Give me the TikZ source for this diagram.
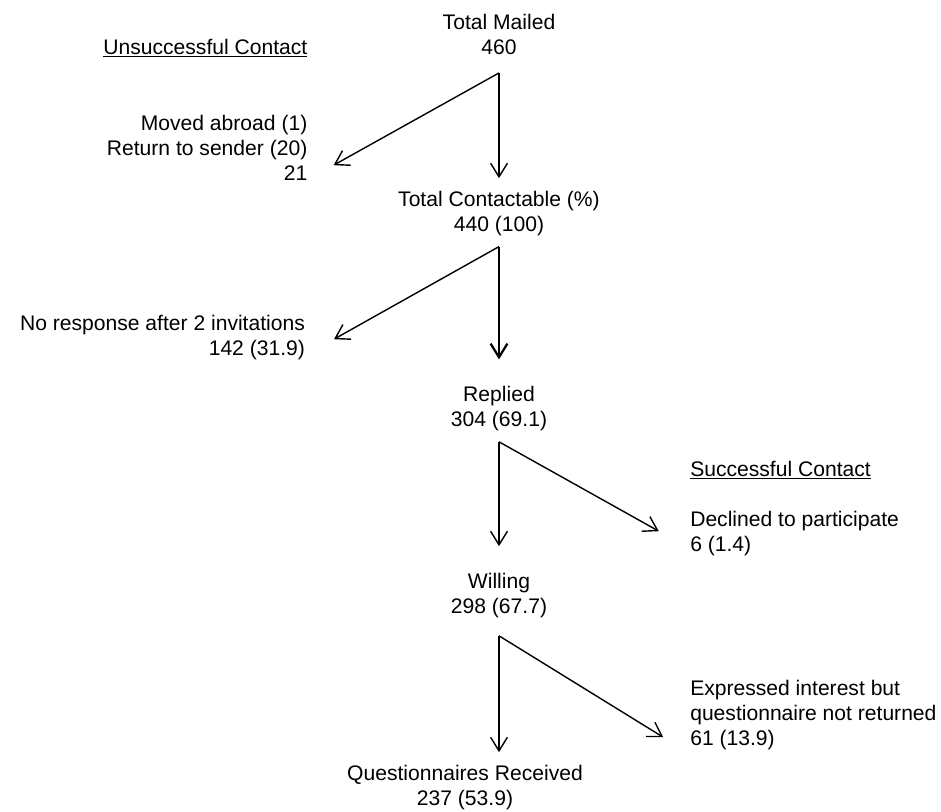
\documentclass[tikz,border=0pt]{standalone}
\usepackage{fontspec}
\setmainfont{Liberation Sans}
\usetikzlibrary{arrows.meta, positioning}

\begin{document}
\begin{tikzpicture}[
    txt/.style={inner sep=0pt, align=center, font=\fontsize{15}{17.8}\selectfont},
    arrow/.style={-{Straight Barb[length=3.4mm, width=4.2mm]}, line width=1pt},
    mainarrow/.style={-{Straight Barb[length=3.4mm, width=4.2mm]}, line width=1.6pt}
]
\useasboundingbox (0,0) rectangle (23.525,-20.3);

% main column
\node[txt] (mailed) at (12.475,-0.86) {Total Mailed\\460};
\node[txt] (contact) at (12.475,-5.35) {Total Contactable (\%)\\440 (100)};
\node[txt] (replied) at (12.475,-10.21) {Replied\\304 (69.1)};
\node[txt] (willing) at (12.475,-14.89) {Willing\\298 (67.7)};
\node[txt] (received) at (11.625,-19.69) {Questionnaires Received\\237 (53.9)};

% losses
\node[txt, anchor=east] (unsucc) at (7.69,-1.2) {\underline{Unsuccessful Contact}};
\node[txt, align=right, anchor=east] (moved) at (7.69,-3.69) {Moved abroad (1)\\Return to sender (20)\\21};
\node[txt, align=right, anchor=east] (noresp) at (7.63,-8.44) {No response after 2 invitations\\142 (31.9)};
\node[txt, anchor=west] (succ) at (17.25,-11.75) {\underline{Successful Contact}};
\node[txt, align=left, anchor=west] (declined) at (17.25,-13.34) {Declined to participate\\6 (1.4)};
\node[txt, align=left, anchor=west] (expressed) at (17.25,-17.87) {Expressed interest but\\questionnaire not returned\\61 (13.9)};

\coordinate (mailed-out) at ([yshift=-4.5mm]mailed.south);
\coordinate (contact-out) at ([yshift=-2.5mm]contact.south);
\coordinate (replied-out) at ([yshift=-2.7mm]replied.south);
\coordinate (willing-out) at ([yshift=-4.4mm]willing.south);
\coordinate (received-in) at ([yshift=3.2mm]received.north);

\draw[arrow] (mailed-out) -- ([xshift=6.5mm, yshift=-4.4mm]moved.east);
\draw[arrow] (mailed-out) -- ([yshift=3.3mm]contact.north);
\draw[arrow] (contact-out) -- ([xshift=7.2mm, yshift=-0.4mm]noresp.east);
\draw[mainarrow] (contact-out) -- ([yshift=6.6mm]replied.north);
\draw[arrow] (replied-out) -- ([xshift=-7.8mm, yshift=0.6mm]declined.west);
\draw[arrow] (replied-out) -- ([yshift=6.7mm]willing.north);
\draw[arrow] (willing-out) -- ([xshift=-6.7mm, yshift=-5.6mm]expressed.west);
\draw[arrow] (willing-out) -- (willing-out |- received-in);
\end{tikzpicture}
\end{document}
